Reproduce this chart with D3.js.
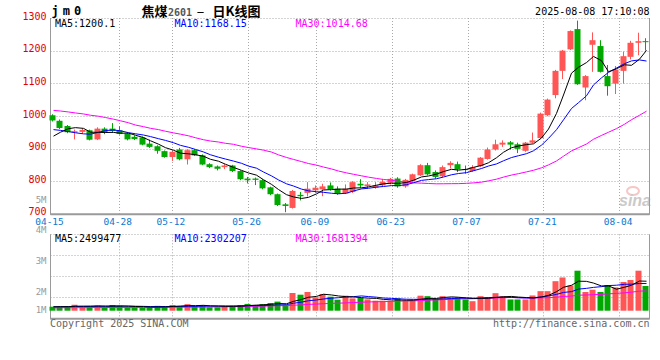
<!DOCTYPE html>
<html><head><meta charset="utf-8">
<script src="https://cdn.jsdelivr.net/npm/d3@7"></script>
<style>
html,body{margin:0;padding:0;background:#fff;}
svg{display:block;}
</style></head><body>
<svg id="chart" width="660" height="360"></svg>
<script>
// ---------------- data ----------------
const dates = ["04-15","04-16","04-17","04-18","04-21","04-22","04-23","04-24","04-25","04-28","04-29","04-30",
"05-06","05-07","05-08","05-09","05-12","05-13","05-14","05-15","05-16","05-19","05-20","05-21","05-22","05-23","05-26","05-27","05-28","05-29","05-30",
"06-03","06-04","06-05","06-06","06-09","06-10","06-11","06-12","06-13","06-16","06-17","06-18","06-19","06-20","06-23","06-24","06-25","06-26","06-27","06-30",
"07-01","07-02","07-03","07-04","07-07","07-08","07-09","07-10","07-11","07-14","07-15","07-16","07-17","07-18","07-21","07-22","07-23","07-24","07-25","07-28","07-29","07-30","07-31",
"08-01","08-04","08-05","08-06","08-07","08-08"];
const opens = [1002,985,969,949,951,956,928,961,961,956, 946,936,934,915,907,892,874,897,867,895,
879,852,845,843,848,831,808,808,803,781, 760,729,718,758,764,772,775,787,777,763,
767,792,785,780,787,795,808,784,800,818, 849,828,815,849,852,837,831,846,868,897,
912,919,913,893,918,932,1002,1064,1138,1204, 1266,1087,1218,1214,1122,1099,1138,1181,1224,1229];
const highs = [1005,989,972,958,962,958,965,965,978,968, 948,940,937,927,910,894,893,902,898,898,
882,855,848,852,850,833,813,811,806,783, 762,733,773,767,797,787,792,796,784,790,
800,806,797,797,807,810,812,807,823,852, 856,833,848,861,860,848,849,874,903,927,
925,923,918,920,949,1010,1053,1141,1202,1262, 1292,1125,1256,1232,1156,1153,1197,1230,1255,1238];
const lows = [983,960,947,928,946,925,926,944,950,943, 925,926,910,902,884,872,862,864,851,877,
849,840,833,837,828,803,793,788,775,757, 724,705,716,741,753,764,754,771,758,761,
764,780,777,777,784,790,780,780,798,816, 818,808,812,839,828,823,829,844,866,894,
905,897,886,890,917,930,999,1054,1113,1202, 1095,1048,1135,1133,1062,1067,1099,1173,1186,1200];
const closes = [986,963,950,953,957,927,961,948,954,945, 928,929,912,905,893,874,890,867,895,879,
851,843,838,848,831,806,803,804,778,760, 727,724,770,754,777,780,784,776,761,777,
797,787,790,787,798,807,784,804,821,849, 821,813,843,856,836,834,843,872,897,913,
918,912,899,918,925,1007,1050,1138,1200,1260, 1097,1122,1232,1135,1091,1142,1183,1224,1229,1226];
const volumes = [338000,360000,360000,504000,360000,360000,432000,309000,483000,411000,
288000,288000,238000,338000,411000,338000,483000,382000,555000,382000,
468000,288000,288000,411000,411000,483000,576000,483000,555000,649000,
771000,483000,1500000,1356000,1585000,1127000,1415000,1186000,932000,1271000,
1042000,1102000,958000,847000,847000,847000,1042000,847000,847000,1271000,
1231000,1002000,1231000,1121000,1121000,952000,807000,1231000,1146000,1485000,
1231000,952000,952000,952000,1291000,1655000,1655000,2502000,2816000,2138000,
3390000,1585000,1780000,1585000,2178000,1975000,2432000,2602000,3390000,2093000];
// closes / volumes of the 9 sessions before 04-15 (estimated from where the MA lines start)
const priorCloses = [987,986,990,990,937,903,895,938,968];
const priorVolumes = [310000,350000,330000,300000,360000,320000,340000,310000,350000];
// MA30 values for the first sessions
const priceMa30Head = [1017,1015,1012,1009,1006,1002,999,995,990,985,979,972,967,962,958,953,948,944,939,933,927,923,920,916,913,907,903,899,895];
const volMa30Head = [250000,252000,256000,258000,261000,265000,268000,271000,274000,276000,278000,279000,280000,281000,284000,287000,290000,294000,298000,303000,308000,315000,322000,330000,340000,350000,362000,374000,386000];
const tickDates = ["04-15","04-28","05-12","05-26","06-09","06-23","07-07","07-21","08-04"];
const priceTicks = [700,800,900,1000,1100,1200,1300];
const volTickValues = [5e6,4e6,3e6,2e6,1e6];
const volTickLabels = ["5M","4M","3M","2M","1M"];
const priceLegend = [["MA5",1200.1],["MA10",1168.15],["MA30",1014.68]];
const volLegend = [["MA5",2499477],["MA10",2302207],["MA30",1681394]];

// ---------------- layout ----------------
const svg = d3.select("#chart");
const L = 50.5, R = 649.5, T = 18, B = 213.8;
const VT = 234.3, VB = 318.3, VBase = 310.7;
const n = dates.length;
const MONO = "'DejaVu Sans Mono', monospace";
const UP = "#ff5555", DOWN = "#00a800", GRID = "#a8a8a8", FRAME = "#9a9a9a";
const maColors = ["#000000", "#0000ff", "#ff00ff"];

const x = d3.scaleBand().domain(d3.range(n)).range([49, 649.8]).paddingInner(0.2).paddingOuter(0.1);
const xg = d3.scalePoint().domain(d3.range(n)).range([L, R]);
const y = d3.scaleLinear().domain([700, 1300]).range([B, T]);
const yv = d3.scaleLinear().domain([0, 6.475e6]).range([VBase, VT]);
const yvLabel = d3.scaleLinear().domain([1e6, 5e6]).range([323.5, 200]);
const vGrid = d3.scaleLinear().domain([0, 4]).range([VT, VB]);
const bodyX = i => Math.round(x(i));
const BW = 6;
const cx = i => bodyX(i) + BW / 2;
const crisp = v => Math.round(v) + 0.5;

function movingAvg(series, prior, len, head) {
  const full = prior.concat(series);
  return series.map((_, i) => {
    if (head && i < head.length) return head[i];
    const idx = i + prior.length;
    return d3.mean(full.slice(idx - len + 1, idx + 1));
  });
}
const priceMAs = [movingAvg(closes, priorCloses, 5), movingAvg(closes, priorCloses, 10), movingAvg(closes, priorCloses, 30, priceMa30Head)];
const volMAs = [movingAvg(volumes, priorVolumes, 5), movingAvg(volumes, priorVolumes, 10), movingAvg(volumes, priorVolumes, 30, volMa30Head)];

// ---------------- grid & frames ----------------
const g = svg.append("g");
const tickIdx = tickDates.map(d => dates.indexOf(d));
tickIdx.filter(i => i > 0).forEach(i => {
  const gx = crisp(xg(i));
  [[T, B], [VT, VB]].forEach(([a, b]) => {
    g.append("line").attr("x1", gx).attr("x2", gx).attr("y1", a).attr("y2", b)
      .attr("stroke", GRID).attr("stroke-dasharray", "1,2");
  });
});
priceTicks.filter(v => v > 700).forEach(v => {
  const gy = crisp(y(v));
  g.append("line").attr("x1", L).attr("x2", R).attr("y1", gy).attr("y2", gy)
    .attr("stroke", GRID).attr("stroke-dasharray", "1,2");
});
d3.range(0, 4).forEach(k => {
  const gy = crisp(vGrid(k));
  g.append("line").attr("x1", L).attr("x2", R).attr("y1", gy).attr("y2", gy)
    .attr("stroke", GRID).attr("stroke-dasharray", "1,2");
});
[[T, B], [VT, VB]].forEach(([a, b]) => {
  [L, R].forEach(xx => g.append("line").attr("x1", xx).attr("x2", xx).attr("y1", a).attr("y2", b + 1).attr("stroke", FRAME));
  g.append("line").attr("x1", L).attr("x2", R).attr("y1", b + 0.5).attr("y2", b + 0.5).attr("stroke", FRAME).attr("stroke-width", 2);
});

// ---------------- watermark ----------------
const wm = svg.append("g").attr("opacity", 0.55);
wm.append("ellipse").attr("cx", 633).attr("cy", 191).attr("rx", 6).attr("ry", 4)
  .attr("fill", "none").attr("stroke", "#f29a9a").attr("stroke-width", 2);
wm.append("text").attr("x", 619).attr("y", 206).text("sina")
  .attr("font-family", "'Liberation Sans', Arial, sans-serif").attr("font-style", "italic")
  .attr("font-weight", "bold").attr("font-size", 16).attr("fill", "#a0a0a0");

// ---------------- candles ----------------
const cg = svg.append("g");
const colorOf = i => closes[i] >= opens[i] ? UP : DOWN;
d3.range(n).forEach(i => {
  const c = colorOf(i);
  cg.append("rect").attr("x", bodyX(i) + 2).attr("width", 1)
    .attr("y", y(highs[i])).attr("height", Math.max(1, y(lows[i]) - y(highs[i]))).attr("fill", c);
  const top = y(Math.max(opens[i], closes[i])), bot = y(Math.min(opens[i], closes[i]));
  cg.append("rect").attr("x", bodyX(i) - 0.5).attr("width", BW)
    .attr("y", top).attr("height", Math.max(1, bot - top)).attr("fill", c);
});
d3.range(n).forEach(i => {
  cg.append("rect").attr("x", bodyX(i) - 0.5).attr("width", BW)
    .attr("y", yv(volumes[i])).attr("height", VBase - yv(volumes[i])).attr("fill", colorOf(i));
});

// ---------------- MA lines ----------------
const lp = d3.line().x((d, i) => cx(i) + 0.5).y(d => y(d));
const lv = d3.line().x((d, i) => cx(i) + 0.5).y(d => yv(d));
[2, 1, 0].forEach(k => {
  svg.append("path").attr("d", lp(priceMAs[k])).attr("fill", "none").attr("stroke", maColors[k]).attr("stroke-width", 1);
  svg.append("path").attr("d", lv(volMAs[k])).attr("fill", "none").attr("stroke", maColors[k]).attr("stroke-width", 1);
});

// ---------------- text ----------------
const tx = svg.append("g").attr("font-family", MONO).attr("font-size", 10);
priceTicks.forEach(v => {
  tx.append("text").attr("x", 46.5).attr("y", Math.min(211.5, y(v) - 1.2)).attr("text-anchor", "end")
    .attr("dominant-baseline", "middle").attr("fill", "#e00000").text(v);
});
volTickValues.forEach((v, k) => {
  tx.append("text").attr("x", 46.5).attr("y", Math.min(310, yvLabel(v))).attr("text-anchor", "end")
    .attr("font-size", 9).attr("dominant-baseline", "middle").attr("fill", "#999").text(volTickLabels[k]);
});
tickIdx.forEach((i, k) => {
  tx.append("text").attr("x", xg(i) - 1).attr("y", 222.3).attr("text-anchor", "middle")
    .attr("font-size", 9.5).attr("dominant-baseline", "middle").attr("fill", "#0a78d2").text(tickDates[k]);
});
const legendX = [55, 174.5, 295.5];
priceLegend.forEach(([name, v], k) => {
  tx.append("text").attr("x", legendX[k]).attr("y", 24).attr("dominant-baseline", "middle")
    .attr("fill", maColors[k]).text(name + ":" + v);
});
volLegend.forEach(([name, v], k) => {
  tx.append("text").attr("x", legendX[k]).attr("y", 239).attr("dominant-baseline", "middle")
    .attr("fill", maColors[k]).text(name + ":" + v);
});
tx.append("text").attr("x", 649.5).attr("y", 11.5).attr("text-anchor", "end")
  .attr("dominant-baseline", "middle").attr("fill", "#000").text("2025-08-08 17:10:08");
tx.append("text").attr("x", 50).attr("y", 324).attr("dominant-baseline", "middle")
  .attr("fill", "#666").text("Copyright 2025 SINA.COM");
tx.append("text").attr("x", 649.5).attr("y", 324).attr("text-anchor", "end")
  .attr("dominant-baseline", "middle").attr("fill", "#666").text("http://finance.sina.com.cn");

// title
svg.append("text").attr("x", 51.5).attr("y", 15).attr("font-family", MONO).attr("font-weight", "bold")
  .attr("font-size", 12).attr("letter-spacing", 4).attr("fill", "#000").text("jm0");
const title = svg.append("text").attr("y", 16).attr("font-weight", "bold").attr("fill", "#000");
title.append("tspan").attr("x", 141.5).attr("font-family", "'Noto Sans CJK SC', sans-serif").attr("font-size", 13).text("焦煤");
title.append("tspan").attr("x", 168).attr("font-family", MONO).attr("font-size", 10).attr("fill", "#555").text("2601");
title.append("tspan").attr("x", 196).attr("font-family", "'Noto Sans CJK SC', sans-serif").attr("font-size", 9).text("－");
title.append("tspan").attr("x", 212.5).attr("font-family", "'Noto Sans CJK SC', sans-serif").attr("font-size", 13).text("日K线图");
</script>
</body></html>
